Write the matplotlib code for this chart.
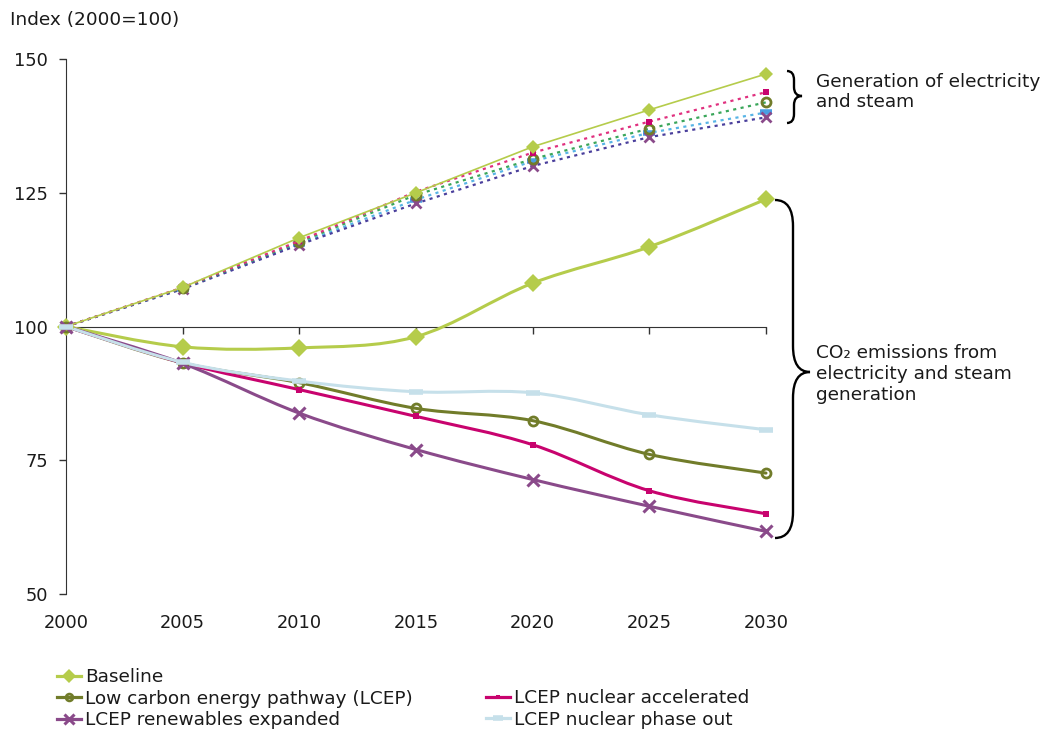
import matplotlib
matplotlib.use("Agg")
import matplotlib.pyplot as plt
from matplotlib.path import Path
from matplotlib.patches import PathPatch
from matplotlib.lines import Line2D

# ---------------- data ----------------
years = [2000, 2005, 2010, 2015, 2020, 2025, 2030]
year_labels = ["2000", "2005", "2010", "2015", "2020", "2025", "2030"]

# Generation of electricity and steam (index)
gen_baseline = [100, 107.3, 116.6, 125.0, 133.6, 140.5, 147.2]
gen_lcep = [100, 107.2, 115.8, 124.6, 131.3, 137.0, 141.9]
gen_nuc_acc = [100, 107.3, 116.0, 125.2, 132.5, 138.3, 143.8]
gen_renew = [100, 107.0, 115.3, 123.0, 130.0, 135.4, 139.1]
gen_phase_out = [100, 107.1, 115.5, 123.7, 130.9, 136.2, 140.0]

# CO2 emissions from electricity and steam generation (index)
co2_baseline = [100, 96.2, 96.0, 98.1, 108.1, 114.9, 123.8]
co2_lcep = [100, 93.2, 89.5, 84.7, 82.4, 76.1, 72.6]
co2_nuc_acc = [100, 93.2, 88.2, 83.2, 77.9, 69.3, 65.0]
co2_renew = [100, 93.1, 83.8, 77.0, 71.4, 66.4, 61.7]
co2_phase_out = [100, 93.3, 89.8, 87.8, 87.6, 83.5, 80.7]

series_names = ["Baseline", "Low carbon energy pathway (LCEP)",
                "LCEP nuclear accelerated", "LCEP renewables expanded",
                "LCEP nuclear phase out"]
y_ticks = [50, 75, 100, 125, 150]

# ---------------- style ----------------
plt.rcParams["font.family"] = ["DejaVu Sans"]
FS = 13.3
FS_TICK = 12.8
TXT = "#1a1a1a"

c_base = "#b5cc4b"
c_lcep = "#717c2a"
c_nuc = "#c8036e"
c_ren = "#8a4a8a"
c_out = "#c6e0ea"

W, H = 1044, 733
fig = plt.figure(figsize=(W / 100, H / 100), dpi=100)
ax = fig.add_axes([66 / W, 1 - 594 / H, 700 / W, 535 / H])


def smooth_path(xs, ys):
    """Excel-like smoothed line as cubic Bezier segments."""
    n = len(xs)
    verts = [(xs[0], ys[0])]
    codes = [Path.MOVETO]
    for i in range(n - 1):
        i0 = max(i - 1, 0)
        i3 = min(i + 2, n - 1)
        c1 = (xs[i] + (xs[i + 1] - xs[i0]) / 6, ys[i] + (ys[i + 1] - ys[i0]) / 6)
        c2 = (xs[i + 1] - (xs[i3] - xs[i]) / 6, ys[i + 1] - (ys[i3] - ys[i]) / 6)
        verts += [c1, c2, (xs[i + 1], ys[i + 1])]
        codes += [Path.CURVE4] * 3
    return Path(verts, codes)


# ---------- generation series (thin / dotted) ----------
dots = (0, (1.4, 2.0))
ax.plot(years, gen_phase_out, color="#58b4e6", lw=1.6, ls=dots, marker="_",
        ms=9, mew=4, mec="#4a9fe3", clip_on=False, zorder=3)
ax.plot(years, gen_renew, color="#4a3f9c", lw=1.6, ls=dots, marker="x",
        ms=6.5, mew=2, mec=c_ren, clip_on=False, zorder=3)
ax.plot(years, gen_lcep, color="#3aa65a", lw=1.6, ls=dots, marker="o",
        ms=6.5, mew=2, mec=c_lcep, mfc="none", clip_on=False, zorder=3)
ax.plot(years, gen_nuc_acc, color="#e0307f", lw=1.6, ls=dots, marker="s",
        ms=4, mew=0, mfc=c_nuc, clip_on=False, zorder=3)
ax.plot(years, gen_baseline, color=c_base, lw=1.2, marker="D",
        ms=7, mew=0, mfc=c_base, clip_on=False, zorder=4)

# ---------- CO2 series (thick, smoothed) ----------
co2_series = [
    (co2_baseline, c_base, dict(marker="D", ms=9, mew=0, mfc=c_base)),
    (co2_lcep, c_lcep, dict(marker="o", ms=6.5, mew=2, mec=c_lcep, mfc="none")),
    (co2_nuc_acc, c_nuc, dict(marker="s", ms=4, mew=0, mfc=c_nuc)),
    (co2_renew, c_ren, dict(marker="x", ms=9, mew=2.2, mec=c_ren)),
    (co2_phase_out, c_out, dict(marker="_", ms=10, mew=4, mec=c_out)),
]
for vals, col, mk in co2_series:
    ax.add_patch(PathPatch(smooth_path(years, vals), fill=False, ec=col,
                           lw=2.2, clip_on=False, zorder=5,
                           capstyle="round", joinstyle="round"))
    ax.plot(years, vals, ls="none", clip_on=False, zorder=6, **mk)

# ---------- axes ----------
ax.set_xlim(2000, 2030)
ax.set_ylim(50, 150)
ax.set_yticks(y_ticks)
ax.tick_params(axis="y", direction="out", length=5, width=1, pad=8,
               labelsize=FS_TICK, labelcolor=TXT, color="#333333")
for s in ["top", "right"]:
    ax.spines[s].set_visible(False)
ax.spines["left"].set_color("#333333")
ax.spines["bottom"].set_position(("data", 100))
ax.spines["bottom"].set_color("#333333")
ax.set_xticks(years)
ax.tick_params(axis="x", direction="out", length=5, width=1,
               labelbottom=False, color="#333333")

sec = ax.secondary_xaxis(0)
sec.set_xticks(years, year_labels)
sec.tick_params(length=0, pad=14.5, labelsize=FS_TICK, labelcolor=TXT)
sec.spines["bottom"].set_visible(False)

fig.text(10 / W, 1 - 20 / H, "Index (2000=100)", fontsize=FS, color=TXT,
         ha="left", va="center")


# ---------- braces and annotations ----------
def brace(x0, xv, xt, ytop, ymid, ybot, r):
    pts = [(x0, ytop), (xv, ytop), (xv, ytop + r), (xv, ymid - r),
           (xv, ymid), (xt, ymid), (xv, ymid), (xv, ymid + r),
           (xv, ybot - r), (xv, ybot), (x0, ybot)]
    codes = [Path.MOVETO, Path.CURVE3, Path.CURVE3, Path.LINETO,
             Path.CURVE3, Path.CURVE3, Path.CURVE3, Path.CURVE3,
             Path.LINETO, Path.CURVE3, Path.CURVE3]
    verts = [(x / W, 1 - y / H) for x, y in pts]
    fig.add_artist(PathPatch(Path(verts, codes), fill=False, ec="black",
                             lw=1.7, transform=fig.transFigure))


brace(787, 794, 802, 71, 96, 123, 9)
brace(775, 793, 810, 200, 372, 538, 26)

fig.text(816 / W, 1 - 92 / H, "Generation of electricity\nand steam",
         fontsize=FS, color=TXT, ha="left", va="center", linespacing=1.1)
fig.text(816 / W, 1 - 374 / H, "CO\u2082 emissions from\nelectricity and steam\ngeneration",
         fontsize=FS, color=TXT, ha="left", va="center", linespacing=1.18)

# ---------- legend ----------
def handle(col, mk):
    m = dict(mk)
    m["ms"] = m["ms"] * 0.75
    return Line2D([0], [0], color=col, lw=2.3, **m)


hs = [handle(col, mk) for _, col, mk in co2_series]
leg_kw = dict(loc="upper left", frameon=False, fontsize=FS, borderpad=0,
              borderaxespad=0, handlelength=1.3, handletextpad=0.22,
              labelspacing=0.2, labelcolor=TXT)
fig.legend([hs[0], hs[1], hs[3]],
           [series_names[0], series_names[1], series_names[3]],
           bbox_to_anchor=(57 / W, 1 - 668 / H), **leg_kw)
fig.legend([hs[2], hs[4]], [series_names[2], series_names[4]],
           bbox_to_anchor=(486 / W, 1 - 689 / H), **leg_kw)

fig.savefig("out.png", dpi=100)
